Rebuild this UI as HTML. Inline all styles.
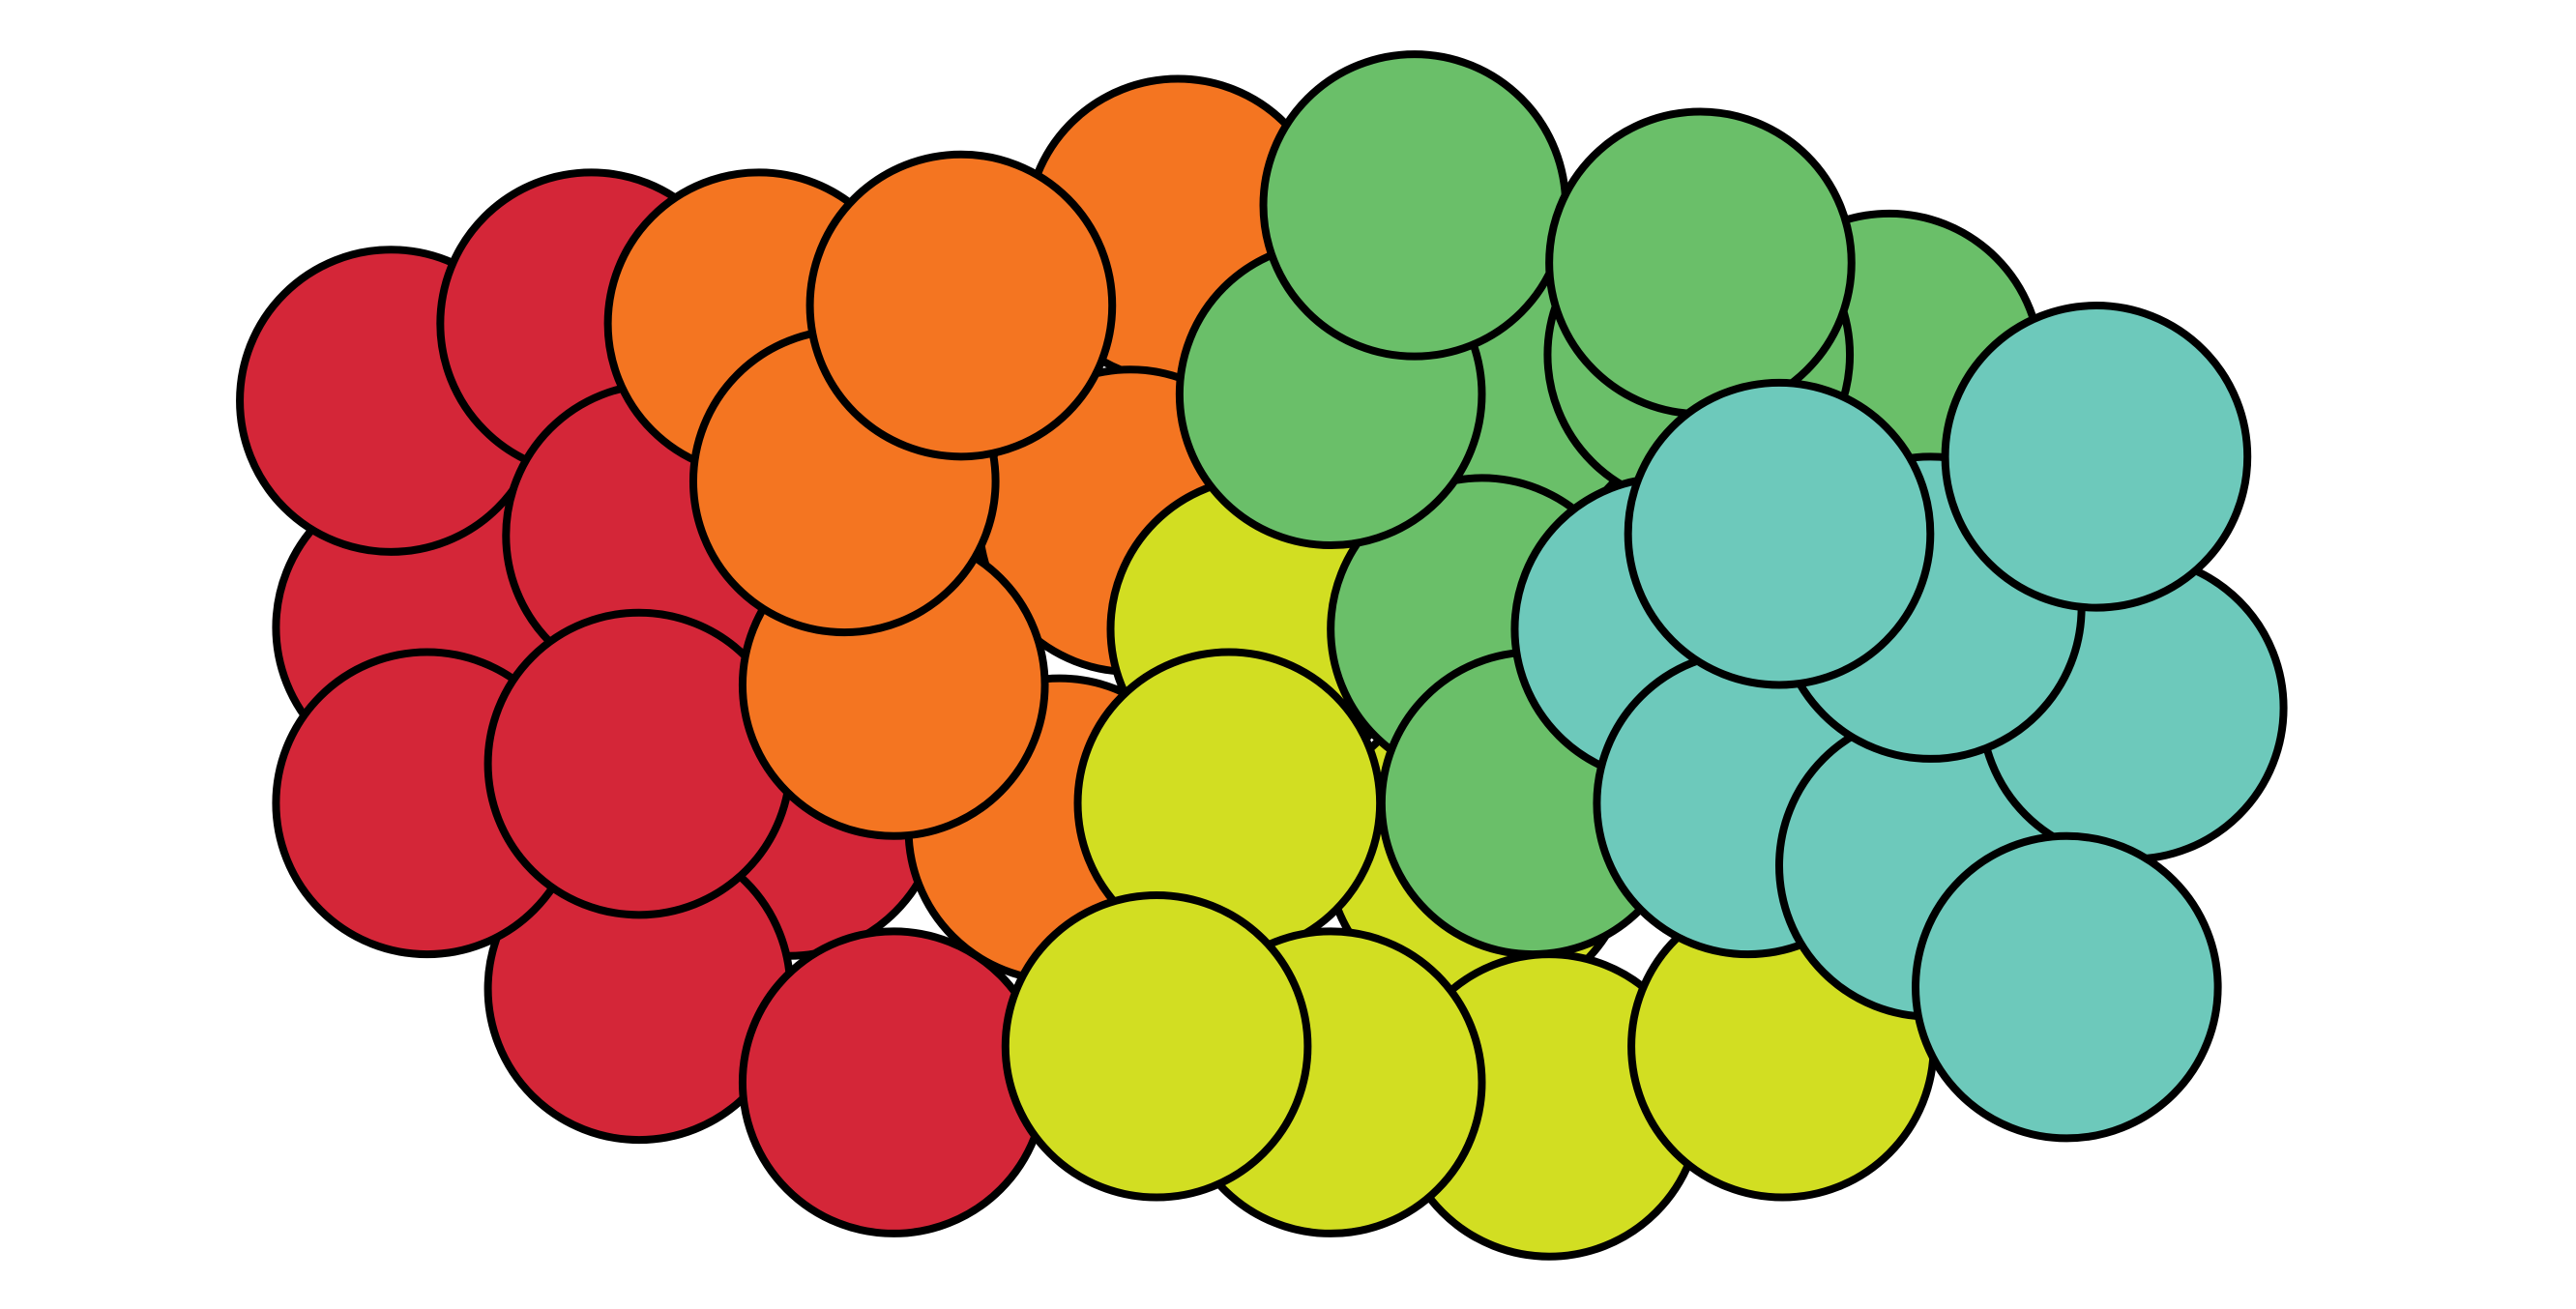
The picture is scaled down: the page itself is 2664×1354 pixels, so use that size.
<!DOCTYPE html>
<html><head><meta charset="utf-8"><style>html,body{margin:0;padding:0;background:#fff;width:2664px;height:1354px;overflow:hidden}svg{display:block}</style></head>
<body>
<svg id="chart" width="2664" height="1354" viewBox="0 0 2664 1354"></svg>
<script>
const groups = ["red","orange","yellow","green","teal"];
const colors = {red:"#D42638",orange:"#F47521",yellow:"#D2DE22",green:"#6ABF69",teal:"#6DC9BB"};
const circleX = [260,238,360,480,389,400,260,389,
 717,462,688,645,544,514,585,
 768,900,748,
 1150,913,1034,902,933,810,861,1035,
 943,1085,
 1014,1064,1175,1298,1175,1083,1276,1258,
 544,810,704];
const circleY = [382,244,197,490,602,326,489,465,
 140,197,317,505,417,293,186,
 383,520,489,
 222,233,216,383,489,240,125,160,
 673,637,
 383,489,527,431,370,325,278,601,
 659,659,637];
const circleGroup = ["red","red","red","red","red","red","red","red",
 "orange","orange","orange","orange","orange","orange","orange",
 "yellow","yellow","yellow",
 "green","green","green","green","green","green","green","green",
 "yellow","yellow",
 "teal","teal","teal","teal","teal","teal","teal","teal",
 "red","yellow","yellow"];
const k = 2664/1568;
function sx(v){return v*k;}
function sy(v){return v*k;}
const R = 92*k;
const svg = document.getElementById('chart');
const NS = "http://www.w3.org/2000/svg";
for(let i=0;i<circleX.length;i++){
  const c = document.createElementNS(NS,'circle');
  c.setAttribute('cx',sx(circleX[i]));
  c.setAttribute('cy',sy(circleY[i]));
  c.setAttribute('r',R);
  c.setAttribute('fill',colors[circleGroup[i]]);
  c.setAttribute('stroke','#000');
  c.setAttribute('stroke-width',8);
  
  
  svg.appendChild(c);
}
</script>
</body></html>
